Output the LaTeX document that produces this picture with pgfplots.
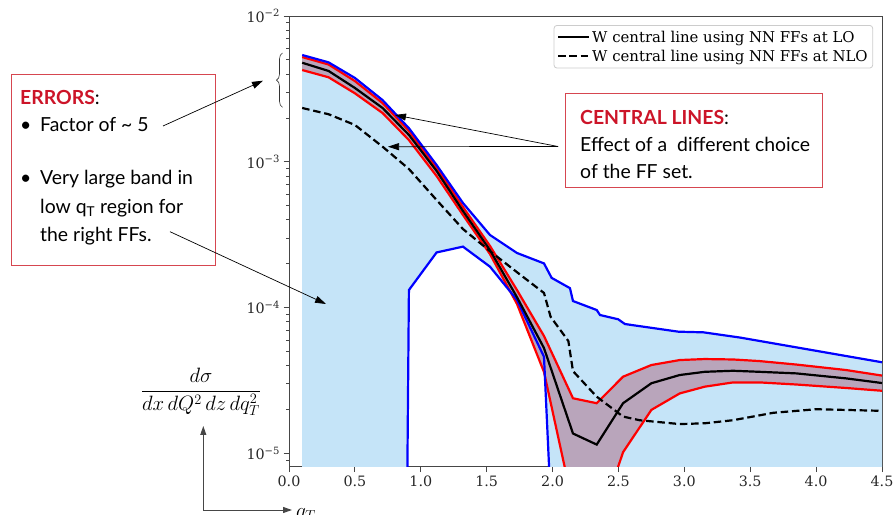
\documentclass[border=0pt]{standalone}
\usepackage{pgfplots}
\pgfplotsset{compat=1.18}
\usepackage{fontspec}
\setmainfont{DejaVu Serif}
\newfontfamily\annot{Lato}
\usetikzlibrary{arrows.meta,decorations.pathreplacing}
\definecolor{bandblue}{RGB}{197,228,248}
\definecolor{bandpurple}{RGB}{185,165,187}
\definecolor{boxred}{RGB}{214,70,80}
\definecolor{titlered}{RGB}{204,20,40}
\definecolor{spine}{RGB}{70,70,70}
\begin{document}
\begin{tikzpicture}[x=1pt,y=1pt]
\useasboundingbox (0,0) rectangle (894,514);
\begin{axis}[
  at={(289pt,47.3pt)}, anchor=south west, scale only axis,
  width=593pt, height=450.7pt,
  xmin=0, xmax=4.5, ymode=log, ymin=8.11e-6, ymax=1e-2,
  xtick={0,0.5,1,1.5,2,2.5,3,3.5,4,4.5},
  xticklabels={0.0,0.5,1.0,1.5,2.0,2.5,3.0,3.5,4.0,4.5},
  ytick={1e-5,1e-4,1e-3,1e-2},
  yticklabels={10\textsuperscript{−5},10\textsuperscript{−4},10\textsuperscript{−3},10\textsuperscript{−2}},
  minor ytick={9e-6,2e-5,3e-5,4e-5,5e-5,6e-5,7e-5,8e-5,9e-5,2e-4,3e-4,4e-4,5e-4,6e-4,7e-4,8e-4,9e-4,2e-3,3e-3,4e-3,5e-3,6e-3,7e-3,8e-3,9e-3},
  xtick pos=bottom, ytick pos=left, tick align=outside,
  major tick length=5.5pt, minor tick length=3pt,
  every tick/.style={spine, line width=0.8pt},
  axis line style={spine, line width=0.9pt},
  /pgf/number format/assume math mode=true,
  tick label style={font=\fontsize{14.3}{17}\selectfont, text=black!85},
  legend style={at={(0.985,0.98)}, anchor=north east, draw=black!20, line width=0.8pt,
    rounded corners=3pt, font=\fontsize{14.9}{17.5}\selectfont, inner xsep=3pt, inner ysep=3.5pt,
    row sep=2pt, cells={anchor=west}},
  legend image code/.code={\draw[#1] (0pt,0pt) -- (31pt,0pt);},
]
% blue band fill
\addplot[draw=none, fill=bandblue, forget plot] coordinates {
(0.1,5.40e-3)(0.3,4.81e-3)(0.5,3.76e-3)(0.71,2.65e-3)(0.91,1.70e-3)(1.12,9.51e-4)(1.32,5.22e-4)(1.525,3.15e-4)(1.73,2.37e-4)(1.935,2.01e-4)(1.993,1.60e-4)(2.132,1.36e-4)(2.155,1.11e-4)(2.335,9.63e-5)(2.36,8.90e-5)(2.498,8.32e-5)(2.549,7.72e-5)(2.955,6.84e-5)(3.145,6.77e-5)(3.42,6.24e-5)(4.5,4.22e-5)
(4.5,1e-25)(2.155,2.3e-9)(1.935,4.60e-5)(1.73,1.13e-4)(1.525,1.91e-4)(1.32,2.62e-4)(1.12,2.39e-4)(0.91,1.32e-4)(0.71,1e-25)(0.1,1e-25)
} -- cycle;
% purple band fill
\addplot[draw=none, fill=bandpurple, forget plot] coordinates {
(0.1,5.23e-3)(0.3,4.65e-3)(0.5,3.58e-3)(0.71,2.53e-3)(0.91,1.63e-3)(1.12,9.07e-4)(1.32,4.90e-4)(1.525,2.65e-4)(1.73,1.32e-4)(1.935,6.39e-5)(2.155,2.39e-5)(2.335,2.21e-5)(2.535,3.36e-5)(2.75,4.04e-5)(2.965,4.37e-5)(3.155,4.44e-5)(3.37,4.41e-5)(3.57,4.30e-5)(3.85,4.07e-5)(4.23,3.73e-5)(4.5,3.42e-5)
(4.5,2.69e-5)(4.23,2.81e-5)(3.85,2.97e-5)(3.57,3.07e-5)(3.37,3.07e-5)(3.155,2.87e-5)(2.965,2.58e-5)(2.75,1.99e-5)(2.535,1.02e-5)(2.335,2.98e-6)(2.155,4.43e-6)(1.935,3.62e-5)(1.73,1.06e-4)(1.525,2.33e-4)(1.32,4.32e-4)(1.12,7.99e-4)(0.91,1.41e-3)(0.71,2.16e-3)(0.5,2.95e-3)(0.3,3.80e-3)(0.1,4.26e-3)
} -- cycle;
% red upper
\addplot[red, line width=2.2pt, forget plot] coordinates {
(0.1,5.23e-3)(0.3,4.65e-3)(0.5,3.58e-3)(0.71,2.53e-3)(0.91,1.63e-3)(1.12,9.07e-4)(1.32,4.90e-4)(1.525,2.65e-4)(1.73,1.32e-4)(1.935,6.39e-5)(2.155,2.39e-5)(2.335,2.21e-5)(2.535,3.36e-5)(2.75,4.04e-5)(2.965,4.37e-5)(3.155,4.44e-5)(3.37,4.41e-5)(3.57,4.30e-5)(3.85,4.07e-5)(4.23,3.73e-5)(4.5,3.42e-5)};
% red lower
\addplot[red, line width=2.2pt, forget plot] coordinates {
(0.1,4.26e-3)(0.3,3.80e-3)(0.5,2.95e-3)(0.71,2.16e-3)(0.91,1.41e-3)(1.12,7.99e-4)(1.32,4.32e-4)(1.525,2.33e-4)(1.73,1.06e-4)(1.935,3.62e-5)(2.155,4.43e-6)(2.335,2.98e-6)(2.535,1.02e-5)(2.75,1.99e-5)(2.965,2.58e-5)(3.155,2.87e-5)(3.37,3.07e-5)(3.57,3.07e-5)(3.85,2.97e-5)(4.23,2.81e-5)(4.5,2.69e-5)};
% blue upper
\addplot[blue, line width=2.2pt, forget plot] coordinates {
(0.1,5.40e-3)(0.3,4.81e-3)(0.5,3.76e-3)(0.71,2.65e-3)(0.91,1.70e-3)(1.12,9.51e-4)(1.32,5.22e-4)(1.525,3.15e-4)(1.73,2.37e-4)(1.935,2.01e-4)(1.993,1.60e-4)(2.132,1.36e-4)(2.155,1.11e-4)(2.335,9.63e-5)(2.36,8.90e-5)(2.498,8.32e-5)(2.549,7.72e-5)(2.955,6.84e-5)(3.145,6.77e-5)(3.42,6.24e-5)(4.5,4.22e-5)};
% blue lower
\addplot[blue, line width=2.2pt, forget plot] coordinates {
(0.71,1e-25)(0.91,1.32e-4)(1.12,2.39e-4)(1.32,2.62e-4)(1.525,1.91e-4)(1.73,1.13e-4)(1.935,4.60e-5)(2.155,2.3e-9)};
% central LO
\addplot[black, line width=2.2pt] coordinates {
(0.1,4.78e-3)(0.3,4.20e-3)(0.5,3.21e-3)(0.71,2.34e-3)(0.91,1.53e-3)(1.12,8.65e-4)(1.32,4.60e-4)(1.525,2.48e-4)(1.73,1.18e-4)(1.935,5.28e-5)(2.155,1.37e-5)(2.335,1.15e-5)(2.535,2.21e-5)(2.75,3.03e-5)(2.965,3.45e-5)(3.155,3.63e-5)(3.37,3.69e-5)(3.57,3.63e-5)(3.85,3.54e-5)(4.23,3.27e-5)(4.5,3.04e-5)};
\addlegendentry{W central line using NN FFs at LO}
% central NLO
\addplot[black, line width=2.2pt, dash pattern=on 7.5pt off 3.8pt] coordinates {
(0.1,2.34e-3)(0.3,2.12e-3)(0.5,1.79e-3)(0.71,1.27e-3)(0.91,8.93e-4)(1.12,5.47e-4)(1.32,3.46e-4)(1.525,2.44e-4)(1.73,1.75e-4)(1.935,1.26e-4)(1.985,8.66e-5)(2.12,5.90e-5)(2.155,3.67e-5)(2.335,2.45e-5)(2.535,1.79e-5)(2.66,1.69e-5)(2.965,1.59e-5)(3.155,1.61e-5)(3.37,1.69e-5)(3.675,1.90e-5)(4.0,2.01e-5)(4.5,1.96e-5)};
\addlegendentry{W central line using NN FFs at NLO}
\end{axis}
% annotation boxes
\draw[boxred, line width=0.8pt] (11,249) rectangle (215,440);
\begin{scope}[every node/.style={anchor=base west, inner sep=0pt, font=\annot\fontsize{19.4}{23}\selectfont}]
\node at (20,409) {\textcolor{titlered}{\bfseries ERRORS}:};
\node at (20,382.3) {•};
\node at (40,382.3) {Factor of \textasciitilde\ 5};
\node at (20,329) {•};
\node at (40,329) {Very large band in};
\node at (40,300.7) {low q\textsubscript{T} region for};
\node at (40,272.3) {the right FFs.};
\node at (580,389) {\textcolor{titlered}{\bfseries CENTRAL LINES}:};
\node at (580,362.3) {Effect of a\ \ different choice};
\node at (580,335.7) {of the FF set.};
\end{scope}
\draw[boxred, line width=0.8pt] (565,326.3) rectangle (822.3,420.7);
% arrows
\draw[line width=0.7pt, -{Triangle[length=11pt,width=7pt]}] (163,388) -- (263,433.3);
\draw[line width=0.7pt, -{Triangle[length=11pt,width=7pt]}] (170,282.3) -- (326,210);
\draw[line width=0.7pt, -{Triangle[length=11pt,width=7pt]}] (558,367.5) -- (395,399);
\draw[line width=0.7pt, -{Triangle[length=11pt,width=7pt]}] (558,367.5) -- (388,367.3);
% brace
\draw[black!80, line width=0.6pt, decorate, decoration={brace, amplitude=6pt}] (282.5,406.7) -- (282.5,461);
% y label and axes arrows
\node at (201,122.3) {\fontsize{19.3}{23}\selectfont $\displaystyle\frac{d\sigma}{dx\,dQ^2\,dz\,dq_T^2}$};
\draw[spine, line width=1pt, -{Triangle[length=9pt,width=6pt]}] (203.3,4) -- (203.3,88);
\draw[spine, line width=1pt, -{Triangle[length=9pt,width=6pt]}] (203.3,4) -- (292,4);
\node[anchor=north west, inner sep=0pt] at (296,6) {\fontsize{19.3}{23}\selectfont $q_T$};
\end{tikzpicture}
\end{document}
